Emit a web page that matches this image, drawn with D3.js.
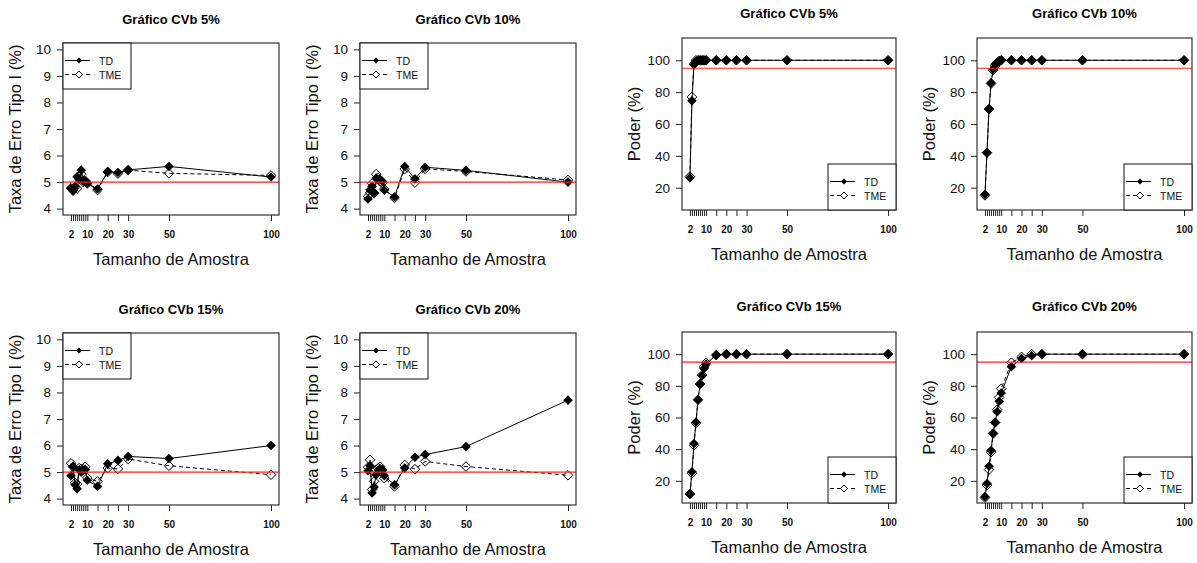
<!DOCTYPE html>
<html>
<head>
<meta charset="utf-8">
<script src="https://cdn.jsdelivr.net/npm/d3@7"></script>
<style>
  body { margin: 0; background: #fff; }
  text { font-family: "Liberation Sans", Arial, sans-serif; }
</style>
</head>
<body>
<script>
// tamanhos de amostra (eixo x)
var sampleSizes = [2, 3, 4, 5, 6, 7, 8, 9, 10, 15, 20, 25, 30, 50, 100];
var xTickLabels = ["2", "", "", "", "", "", "", "", "10", "", "20", "", "30", "50", "100"];
var cvTitles = ["Gráfico CVb 5%", "Gráfico CVb 10%", "Gráfico CVb 15%", "Gráfico CVb 20%"];
var seriesNames = ["TD", "TME"];

// taxa de erro tipo I (%)
var erroYTicks = [4, 5, 6, 7, 8, 9, 10];
var erroLim = [4, 10];
var erroRef = 5;
var erroTD5 = [4.77, 4.66, 4.84, 5.2, 5.1, 5.45, 5.03, 5.03, 4.96, 4.74, 5.4, 5.36, 5.46, 5.59, 5.19];
var erroTME5 = [4.77, 4.7, 4.8, 4.76, 5.2, 5.3, 5.0, 5.05, 4.95, 4.7, 5.38, 5.32, 5.45, 5.33, 5.25];
var erroTD10 = [4.36, 4.71, 4.84, 4.6, 5.15, 5.1, 5.1, 5.03, 4.69, 4.44, 5.59, 5.12, 5.56, 5.44, 5.0];
var erroTME10 = [4.46, 4.6, 4.95, 4.58, 5.3, 5.15, 5.02, 4.97, 4.74, 4.4, 5.49, 4.98, 5.5, 5.4, 5.08];
var erroTD15 = [4.86, 5.2, 4.52, 4.37, 5.08, 5.0, 5.06, 5.1, 4.69, 4.46, 5.31, 5.44, 5.59, 5.51, 6.0];
var erroTME15 = [5.33, 5.2, 4.59, 4.55, 5.15, 5.12, 5.1, 5.2, 4.78, 4.65, 5.15, 5.12, 5.49, 5.24, 4.9];
var erroTD20 = [5.05, 5.24, 4.21, 4.44, 4.9, 5.08, 5.12, 5.08, 4.86, 4.52, 5.15, 5.56, 5.66, 5.96, 7.71];
var erroTME20 = [5.18, 5.46, 4.34, 4.65, 5.08, 5.15, 5.2, 5.08, 4.77, 4.46, 5.27, 5.11, 5.4, 5.21, 4.88];

// poder (%)
var poderYTicks = [20, 40, 60, 80, 100];
var poderLim = [10, 110];
var poderRef = 95;
var poderTD5 = [26.2, 74.6, 97.3, 99.6, 100, 100, 100, 100, 100, 100, 100, 100, 100, 100, 100];
var poderTME5 = [27, 77, 97.6, 100, 100, 100, 100, 100, 100, 100, 100, 100, 100, 100, 100];
var poderTD10 = [15.8, 42, 69.4, 85.8, 94.2, 97.5, 98.8, 99.6, 100, 100, 100, 100, 100, 100, 100];
var poderTME10 = [15.2, 42, 69.4, 85.4, 93.8, 96.5, 98, 99.6, 100, 100, 100, 100, 100, 100, 100];
var poderTD15 = [11.7, 25.7, 43.6, 57.2, 71.2, 81, 86.4, 91, 93.7, 99.4, 100, 100, 100, 100, 100];
var poderTME15 = [11.7, 24.8, 42.4, 56.6, 71.2, 81.2, 86.8, 92, 94.6, 99.4, 100, 100, 100, 100, 100];
var poderTD20 = [10, 18.3, 29.2, 39.1, 49.9, 56.8, 63.6, 70.3, 75.5, 92.1, 97.3, 99, 100, 100, 100];
var poderTME20 = [9.4, 17.3, 27.1, 38.1, 49.9, 56.8, 65, 72.7, 78.2, 94.6, 98.3, 100, 100, 100, 100];

var width = 1197, height = 563;
var svg = d3.select('body').append('svg')
    .attr('width', width)
    .attr('height', height);

var erroPanel = {yLabel: 'Taxa de Erro Tipo I (%)', yTicks: erroYTicks, yLim: erroLim, ref: erroRef, legend: 'topleft'};
var poderPanel = {yLabel: 'Poder (%)', yTicks: poderYTicks, yLim: poderLim, ref: poderRef, legend: 'bottomright'};

// caixas dos graficos: [esquerda, direita, topo, base]
var panels = [
    {kind: erroPanel, title: cvTitles[0], td: erroTD5, tme: erroTME5, box: [63, 279, 43, 215], titleY: 24},
    {kind: erroPanel, title: cvTitles[1], td: erroTD10, tme: erroTME10, box: [360, 576, 43, 215], titleY: 24},
    {kind: erroPanel, title: cvTitles[2], td: erroTD15, tme: erroTME15, box: [63, 279, 333, 505], titleY: 314},
    {kind: erroPanel, title: cvTitles[3], td: erroTD20, tme: erroTME20, box: [360, 576, 333, 505], titleY: 314},
    {kind: poderPanel, title: cvTitles[0], td: poderTD5, tme: poderTME5, box: [682, 896, 38, 210], titleY: 18},
    {kind: poderPanel, title: cvTitles[1], td: poderTD10, tme: poderTME10, box: [977, 1192, 38, 210], titleY: 18},
    {kind: poderPanel, title: cvTitles[2], td: poderTD15, tme: poderTME15, box: [682, 896, 332, 503], titleY: 311},
    {kind: poderPanel, title: cvTitles[3], td: poderTD20, tme: poderTME20, box: [977, 1192, 332, 503], titleY: 311}
];

// R estende os limites 4% de cada lado
function extend(lim) {
    var d = (lim[1] - lim[0]) * 0.04;
    return [lim[0] - d, lim[1] + d];
}

function diamond(r) {
    return 'M0,' + (-r) + 'L' + r + ',0L0,' + r + 'L' + (-r) + ',0Z';
}

panels.forEach(function (p) {
    drawPanel(p);
});

function drawPanel(p) {
    var x0 = p.box[0], x1 = p.box[1], y0 = p.box[2], y1 = p.box[3];
    var g = svg.append('g');
    var x = d3.scaleLinear().domain(extend([2, 100])).range([x0, x1]);
    var y = d3.scaleLinear().domain(extend(p.kind.yLim)).range([y1, y0]);

    // titulo
    g.append('text')
        .attr('x', (x0 + x1) / 2)
        .attr('y', p.titleY)
        .attr('text-anchor', 'middle')
        .attr('font-weight', 'bold')
        .attr('font-size', '13px')
        .text(p.title);

    // eixo x
    var xAxis = g.append('g')
        .attr('transform', 'translate(0,' + y1 + ')')
        .call(d3.axisBottom(x)
            .tickValues(sampleSizes)
            .tickFormat(function (d, i) { return xTickLabels[i]; })
            .tickSize(6)
            .tickPadding(10));
    xAxis.select('.domain').remove();
    xAxis.selectAll('line').attr('stroke', '#222');
    xAxis.selectAll('text')
        .attr('font-size', '10px')
        .attr('font-weight', 'bold')
        .attr('fill', '#111')
        .style('font-family', '"Liberation Sans", Arial, sans-serif');

    // eixo y
    var yAxis = g.append('g')
        .attr('transform', 'translate(' + x0 + ',0)')
        .call(d3.axisLeft(y)
            .tickValues(p.kind.yTicks)
            .tickFormat(d3.format('d'))
            .tickSize(6)
            .tickPadding(6));
    yAxis.select('.domain').remove();
    yAxis.selectAll('line').attr('stroke', '#222');
    yAxis.selectAll('text')
        .attr('font-size', '13.5px')
        .attr('fill', '#111')
        .style('font-family', '"Liberation Sans", Arial, sans-serif');

    // rotulos dos eixos
    g.append('text')
        .attr('x', (x0 + x1) / 2)
        .attr('y', y1 + 50)
        .attr('text-anchor', 'middle')
        .attr('font-size', '16.5px')
        .attr('fill', '#111')
        .text('Tamanho de Amostra');

    g.append('text')
        .attr('transform', 'translate(' + (x0 - 42) + ',' + ((y0 + y1) / 2) + ') rotate(-90)')
        .attr('text-anchor', 'middle')
        .attr('font-size', '16.5px')
        .attr('fill', '#111')
        .text(p.kind.yLabel);

    // series
    var lineTD = d3.line()
        .x(function (d, i) { return x(sampleSizes[i]); })
        .y(function (d) { return y(d); });

    g.append('path')
        .attr('d', lineTD(p.td))
        .attr('fill', 'none')
        .attr('stroke', '#000')
        .attr('stroke-width', 1);

    g.selectAll('.td-pt')
        .data(p.td)
        .enter()
        .append('path')
        .attr('class', 'td-pt')
        .attr('transform', function (d, i) { return 'translate(' + x(sampleSizes[i]) + ',' + y(d) + ')'; })
        .attr('d', diamond(4.8))
        .attr('fill', '#000');

    g.append('path')
        .attr('d', lineTD(p.tme))
        .attr('fill', 'none')
        .attr('stroke', '#000')
        .attr('stroke-width', 1)
        .attr('stroke-dasharray', '4,3');

    g.selectAll('.tme-pt')
        .data(p.tme)
        .enter()
        .append('path')
        .attr('class', 'tme-pt')
        .attr('transform', function (d, i) { return 'translate(' + x(sampleSizes[i]) + ',' + y(d) + ')'; })
        .attr('d', diamond(4.8))
        .attr('fill', 'none')
        .attr('stroke', '#000')
        .attr('stroke-width', 1);

    // linha de referencia
    g.append('line')
        .attr('x1', x0)
        .attr('x2', x1)
        .attr('y1', y(p.kind.ref))
        .attr('y2', y(p.kind.ref))
        .attr('stroke', '#f22')
        .attr('stroke-width', 1.2);

    // caixa
    g.append('rect')
        .attr('x', x0)
        .attr('y', y0)
        .attr('width', x1 - x0)
        .attr('height', y1 - y0)
        .attr('fill', 'none')
        .attr('stroke', '#333')
        .attr('stroke-width', 1.2);

    // legenda
    var lw = 68, lh = 46;
    var lx = p.kind.legend === 'topleft' ? x0 : x1 - lw;
    var ly = p.kind.legend === 'topleft' ? y0 : y1 - lh;
    var leg = g.append('g').attr('transform', 'translate(' + lx + ',' + ly + ')');
    leg.append('rect')
        .attr('width', lw)
        .attr('height', lh)
        .attr('fill', '#fff')
        .attr('stroke', '#111')
        .attr('stroke-width', 1);

    seriesNames.forEach(function (name, i) {
        var ry = i === 0 ? 17.5 : 31.5;
        leg.append('line')
            .attr('x1', 2).attr('x2', 27)
            .attr('y1', ry).attr('y2', ry)
            .attr('stroke', '#000')
            .attr('stroke-width', 1)
            .attr('stroke-dasharray', i === 0 ? null : '4,3');
        leg.append('path')
            .attr('transform', 'translate(16,' + ry + ')')
            .attr('d', diamond(i === 0 ? 3 : 3.5))
            .attr('fill', i === 0 ? '#000' : '#fff')
            .attr('stroke', i === 0 ? 'none' : '#000');
        leg.append('text')
            .attr('x', 36)
            .attr('y', ry + 4)
            .attr('font-size', '10.5px')
            .attr('fill', '#111')
            .text(name);
    });
}
</script>
</body>
</html>
